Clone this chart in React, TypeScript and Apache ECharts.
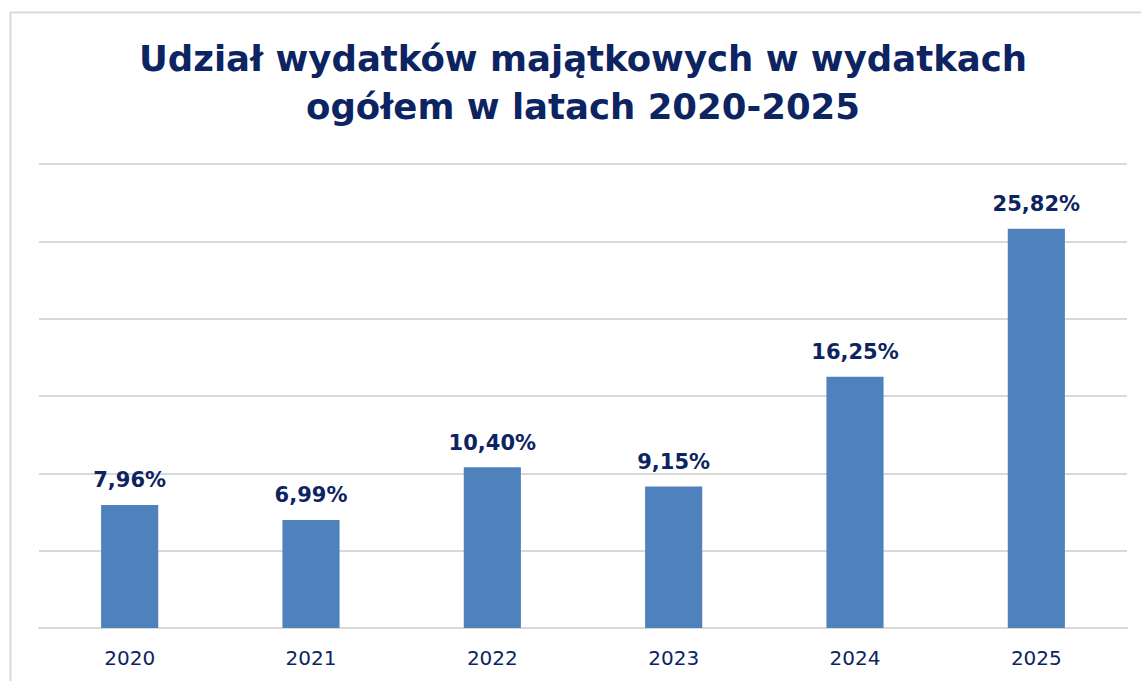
import React, { useEffect, useRef } from "react";
import * as echarts from "echarts";

const categories = ["2020", "2021", "2022", "2023", "2024", "2025"];
const values = [7.96, 6.99, 10.4, 9.15, 16.25, 25.82];
const titleText = "Udział wydatków majątkowych w wydatkach\nogółem w latach 2020-2025";

const NAVY = "#0c2461";

export default function App() {
  const ref = useRef<HTMLDivElement>(null);
  useEffect(() => {
    if (!ref.current) return;
    const chart = echarts.init(ref.current, null, { renderer: "svg" });
    chart.setOption({
      animation: false,
      backgroundColor: "#ffffff",
      title: {
        text: titleText,
        left: 578,
        textAlign: "center",
        top: 29,
        textStyle: {
          fontFamily: "DejaVu Sans",
          fontWeight: "bold",
          fontSize: 35.5,
          lineHeight: 48,
          color: NAVY,
        },
      },
      graphic: [
        {
          type: "rect",
          shape: { x: 10.5, y: 12.5, width: 1200, height: 800 },
          style: { fill: "none", stroke: "#d9d9d9", lineWidth: 2 },
          silent: true,
        },
      ],
      grid: { left: 39, right: 14, top: 164, bottom: 53 },
      xAxis: {
        type: "category",
        data: categories,
        axisTick: { show: false },
        axisLine: { show: true, lineStyle: { color: "#d9d9d9", width: 2 } },
        axisLabel: {
          color: NAVY,
          fontFamily: "DejaVu Sans",
          fontSize: 20,
          margin: 20,
        },
      },
      yAxis: {
        type: "value",
        min: 0,
        max: 30,
        interval: 5,
        axisLabel: { show: false },
        axisLine: { show: false },
        axisTick: { show: false },
        splitLine: { lineStyle: { color: "#d9d9d9", width: 2 } },
      },
      series: [
        {
          type: "bar",
          data: values,
          barWidth: "31.5%",
          itemStyle: { color: "#4f81bd" },
          label: {
            show: true,
            position: "top",
            distance: 14,
            color: NAVY,
            fontFamily: "DejaVu Sans",
            fontWeight: "bold",
            fontSize: 21,
            formatter: (p: any) => p.value.toFixed(2).replace(".", ",") + "%",
          },
        },
      ],
    });
    return () => chart.dispose();
  }, []);
  return (
    <div
      ref={ref}
      style={{ position: "absolute", left: 0, top: 0, width: 1141, height: 681 }}
    />
  );
}
